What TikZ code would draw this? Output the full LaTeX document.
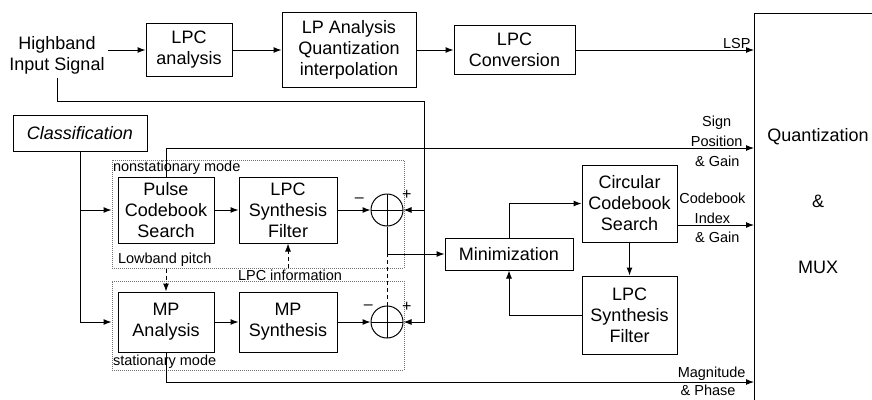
\documentclass[tikz,border=0pt]{standalone}
\usepackage{fontspec}
\setmainfont{Liberation Sans}
\usepackage{tikz}
\usetikzlibrary{arrows.meta, positioning}

\begin{document}
\begin{tikzpicture}[
  x=1pt, y=-1pt, line width=1pt,
  font=\fontsize{18}{21}\selectfont,
  box/.style={rectangle, draw, align=center, inner sep=1pt},
  frm/.style={rectangle, draw=black!55, densely dotted, line width=1pt},
  sum/.style={circle, draw, minimum size=32pt, inner sep=0pt, path picture={\draw (path picture bounding box.north) -- (path picture bounding box.south) (path picture bounding box.west) -- (path picture bounding box.east);}},
  lbl/.style={font=\fontsize{14.5}{20}\selectfont, align=center, inner sep=1pt},
  sgn/.style={font=\fontsize{16}{16}\selectfont, inner sep=1pt},
  arr/.style={-{Latex[length=8pt, width=6pt]}},
  dsh/.style={dash pattern=on 4pt off 3pt},
]
\useasboundingbox (0,0) rectangle (872,399);
\node[frm, minimum width=292pt, minimum height=108pt] (nsf) at (258,214) {};
\node[frm, minimum width=292pt, minimum height=89pt] (sf) at (258,325.5) {};
\node[align=center] (inp) at (57,55) {Highband\\Input Signal};
\node[box, minimum width=86pt, minimum height=53pt] (lpca) at (189,50) {LPC\\analysis};
\node[box, minimum width=134pt, minimum height=75pt, right=49pt of lpca] (lpq) {LP Analysis\\Quantization\\interpolation};
\node[box, minimum width=121pt, minimum height=49pt, right=37pt of lpq] (lpcc) {LPC\\Conversion};
\node[minimum width=118pt, minimum height=386pt, anchor=north west] (mux) at (754,13) {};
\node[align=center] at (818,201) {Quantization\\[45pt]\&\\[45pt]MUX};
\node[box, font=\fontsize{18}{21}\selectfont\itshape, minimum width=134pt, minimum height=36pt] (cls) at (80,133) {Classification};
\node[box, minimum width=96pt, minimum height=66pt] (pcs) at (166,210) {Pulse\\Codebook\\Search};
\node[box, minimum width=98pt, minimum height=66pt, right=24pt of pcs] (lsf1) {LPC\\Synthesis\\Filter};
\node[sum, right=33pt of lsf1, label={[sgn, label distance=6pt]165:--}, label={[sgn]35:+}] (add1) {};
\node[box, minimum width=96pt, minimum height=60pt, below=48pt of pcs] (mpa) {MP\\Analysis};
\node[box, minimum width=98pt, minimum height=60pt, right=24pt of mpa] (mps) {MP\\Synthesis};
\node[sum, right=33pt of mps, label={[sgn]140:--}, label={[sgn]35:+}] (add2) {};
\node[box, minimum width=128pt, minimum height=32pt] (minz) at (509,254) {Minimization};
\node[box, minimum width=95pt, minimum height=77pt] (ccs) at (629.5,203.5) {Circular\\Codebook\\Search};
\node[box, minimum width=95pt, minimum height=78pt, below=33pt of ccs] (lsf2) {LPC\\Synthesis\\Filter};
\node[lbl, anchor=north west] at (nsf.north west) {nonstationary mode};
\node[lbl, anchor=south west] at ([xshift=5pt]nsf.south west) {Lowband pitch};
\node[lbl, anchor=south west] at (sf.south west) {stationary mode};
\node[lbl] (lpi) at (290,275) {LPC information};
\coordinate (hb) at (424,101);

\draw (mux.south west) -- (mux.north west) -- (mux.north east);
\draw[arr] (inp.east |- lpca) -- (lpca);
\draw[arr] (lpca) -- (lpq);
\draw[arr] (lpq) -- (lpcc);
\draw[arr] (lpcc) -- (lpcc -| mux.west) node[lbl, pos=1, above left, xshift=-2pt] {LSP};
\draw[arr] (pcs.north) |- (mux.west |- 0,148) node[lbl, pos=1, anchor=south east, xshift=-10pt] {Sign\\Position} node[lbl, pos=1, anchor=north east, xshift=-13pt, yshift=-6pt] {\& Gain};
\draw[arr] (ccs.east |- 0,225) -- (mux.west |- 0,225) node[lbl, pos=1, anchor=south east, xshift=-7pt] {Codebook\\Index} node[lbl, pos=1, anchor=north east, xshift=-13pt, yshift=-5pt] {\& Gain};
\draw[arr] (mpa.south) |- (mux.west |- 0,382) node[lbl, pos=1, anchor=south east, xshift=-7pt] {Magnitude} node[lbl, pos=1, anchor=north east, xshift=-17pt, yshift=-1pt] {\& Phase};
\draw[arr] (cls.south) |- (nsf.west |- pcs.west);
\draw[arr] (cls.south) |- (sf.west |- mpa.west);
\draw[arr] (pcs) -- (lsf1);
\draw[arr] (lsf1) -- (add1);
\draw[arr] (mpa) -- (mps);
\draw[arr] (mps) -- (add2);
\draw[arr] (inp.south) |- (hb) |- (add1.east);
\draw[arr] (hb) |- (add2.east);
\draw[arr] (add1.south) |- (minz.west);
\draw[dsh] (add2.north) -- (add2.north |- minz.west);
\draw[dsh, arr] (mpa.north |- nsf.south) -- (mpa.north);
\draw[dsh, arr] (lpi.north -| lsf1.south) -- (lsf1.south);
\draw[arr] (minz.north) |- (ccs.west);
\draw[arr] (ccs) -- (lsf2);
\draw[arr] (lsf2.west) -| (minz.south);
\end{tikzpicture}
\end{document}
